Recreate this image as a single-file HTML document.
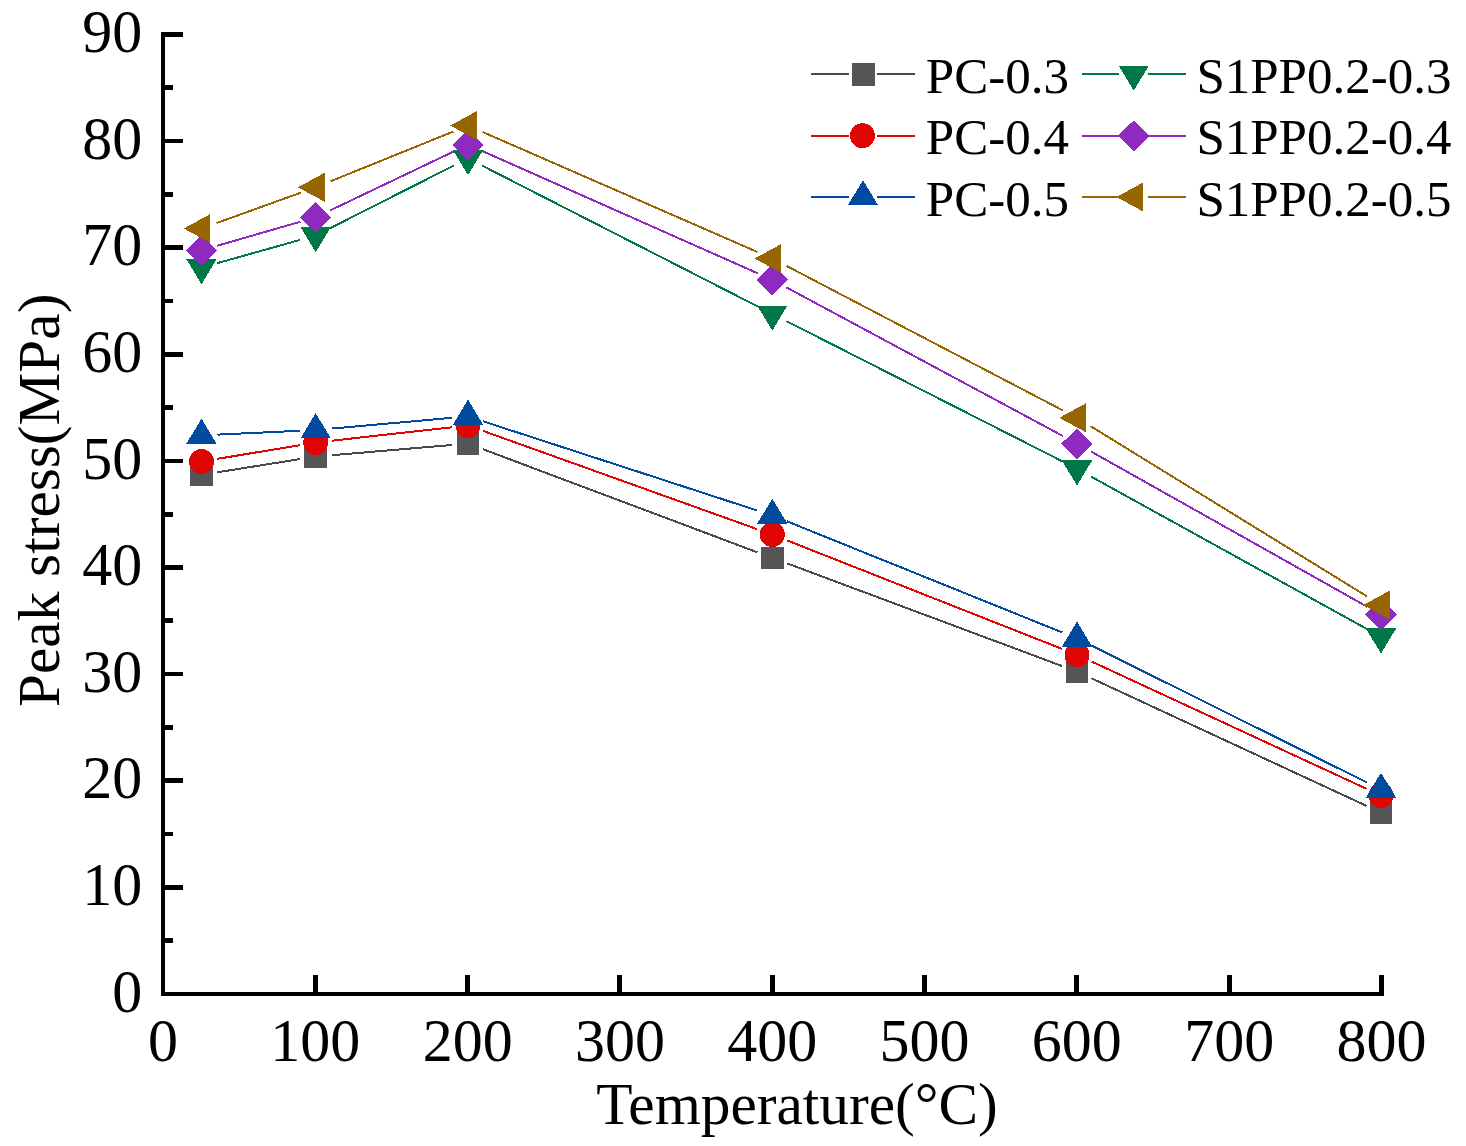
<!DOCTYPE html>
<html><head><meta charset="utf-8"><style>
html,body{margin:0;padding:0;background:#fff;}
svg{display:block;}
text{font-family:"Liberation Serif",serif;fill:#000;}
</style></head><body>
<svg width="1466" height="1146" viewBox="0 0 1466 1146" shape-rendering="crispEdges">
<rect width="1466" height="1146" fill="#fff"/>
<path d="M217.30 472.28L299.90 459.12M331.64 455.24L452.06 444.96M482.98 449.23L757.32 552.27M787.29 563.49L1062.01 666.01M1091.51 678.33L1366.49 805.87" stroke="#4a4a4a" stroke-width="2.0" fill="none"/>
<path d="M217.28 458.87L299.92 445.13M331.60 440.73L452.10 427.27M483.06 430.90L757.24 529.20M787.18 540.47L1062.12 648.93M1091.52 661.52L1366.48 788.78" stroke="#E00505" stroke-width="2.0" fill="none"/>
<path d="M217.48 434.64L299.72 430.76M331.64 428.58L452.06 417.82M483.22 421.35L757.08 510.45M787.14 521.39L1062.16 632.41M1091.33 645.52L1366.67 782.38" stroke="#004B9E" stroke-width="2.0" fill="none"/>
<path d="M216.90 263.27L300.30 239.83M329.98 228.27L453.72 165.63M482.25 165.68L758.05 306.62M786.56 321.15L1062.74 461.55M1091.00 476.54L1367.00 629.06" stroke="#007746" stroke-width="2.0" fill="none"/>
<path d="M216.87 245.86L300.33 221.74M330.14 210.42L453.56 151.58M482.62 151.19L757.68 273.31M786.39 287.38L1062.91 436.02M1090.95 451.44L1367.05 606.66" stroke="#8E2ABF" stroke-width="2.0" fill="none"/>
<path d="M216.55 223.07L300.65 192.73M330.53 181.29L453.17 131.61M482.66 132.00L757.64 252.10M786.48 265.91L1062.82 410.39M1090.62 426.19L1367.38 596.61" stroke="#966600" stroke-width="2.0" fill="none"/>
<rect x="190.25" y="463.55" width="22.50" height="22.50" fill="#555555"/>
<rect x="304.45" y="445.35" width="22.50" height="22.50" fill="#555555"/>
<rect x="456.75" y="432.35" width="22.50" height="22.50" fill="#555555"/>
<rect x="761.05" y="546.65" width="22.50" height="22.50" fill="#555555"/>
<rect x="1065.75" y="660.35" width="22.50" height="22.50" fill="#555555"/>
<rect x="1369.75" y="801.35" width="22.50" height="22.50" fill="#555555"/>
<circle cx="201.50" cy="461.50" r="12.5" fill="#E00505"/>
<circle cx="315.70" cy="442.50" r="12.5" fill="#E00505"/>
<circle cx="468.00" cy="425.50" r="12.5" fill="#E00505"/>
<circle cx="772.30" cy="534.60" r="12.5" fill="#E00505"/>
<circle cx="1077.00" cy="654.80" r="12.5" fill="#E00505"/>
<circle cx="1381.00" cy="795.50" r="12.5" fill="#E00505"/>
<polygon points="201.50,418.60 216.70,443.80 186.30,443.80" fill="#004B9E"/>
<polygon points="315.70,413.20 330.90,438.40 300.50,438.40" fill="#004B9E"/>
<polygon points="468.00,399.60 483.20,424.80 452.80,424.80" fill="#004B9E"/>
<polygon points="772.30,498.60 787.50,523.80 757.10,523.80" fill="#004B9E"/>
<polygon points="1077.00,621.60 1092.20,646.80 1061.80,646.80" fill="#004B9E"/>
<polygon points="1381.00,772.70 1396.20,797.90 1365.80,797.90" fill="#004B9E"/>
<polygon points="201.50,284.40 216.70,259.20 186.30,259.20" fill="#007746"/>
<polygon points="315.70,252.30 330.90,227.10 300.50,227.10" fill="#007746"/>
<polygon points="468.00,175.20 483.20,150.00 452.80,150.00" fill="#007746"/>
<polygon points="772.30,330.70 787.50,305.50 757.10,305.50" fill="#007746"/>
<polygon points="1077.00,485.60 1092.20,460.40 1061.80,460.40" fill="#007746"/>
<polygon points="1381.00,653.60 1396.20,628.40 1365.80,628.40" fill="#007746"/>
<polygon points="201.50,234.80 217.10,250.30 201.50,265.80 185.90,250.30" fill="#8E2ABF"/>
<polygon points="315.70,201.80 331.30,217.30 315.70,232.80 300.10,217.30" fill="#8E2ABF"/>
<polygon points="468.00,129.20 483.60,144.70 468.00,160.20 452.40,144.70" fill="#8E2ABF"/>
<polygon points="772.30,264.30 787.90,279.80 772.30,295.30 756.70,279.80" fill="#8E2ABF"/>
<polygon points="1077.00,428.10 1092.60,443.60 1077.00,459.10 1061.40,443.60" fill="#8E2ABF"/>
<polygon points="1381.00,599.00 1396.60,614.50 1381.00,630.00 1365.40,614.50" fill="#8E2ABF"/>
<polygon points="183.77,228.50 210.37,214.00 210.37,243.00" fill="#966600"/>
<polygon points="297.97,187.30 324.57,172.80 324.57,201.80" fill="#966600"/>
<polygon points="450.27,125.60 476.87,111.10 476.87,140.10" fill="#966600"/>
<polygon points="754.57,258.50 781.17,244.00 781.17,273.00" fill="#966600"/>
<polygon points="1059.27,417.80 1085.87,403.30 1085.87,432.30" fill="#966600"/>
<polygon points="1363.27,605.00 1389.87,590.50 1389.87,619.50" fill="#966600"/>
<path d="M163.0 32.3V994" stroke="#000" stroke-width="3.9" fill="none"/>
<path d="M161.1 994H1384" stroke="#000" stroke-width="3.8" fill="none"/>
<path d="M163.0 887.38H182.9" stroke="#000" stroke-width="4.7" fill="none"/>
<path d="M163.0 780.76H182.9" stroke="#000" stroke-width="4.7" fill="none"/>
<path d="M163.0 674.14H182.9" stroke="#000" stroke-width="4.7" fill="none"/>
<path d="M163.0 567.52H182.9" stroke="#000" stroke-width="4.7" fill="none"/>
<path d="M163.0 460.90H182.9" stroke="#000" stroke-width="4.7" fill="none"/>
<path d="M163.0 354.28H182.9" stroke="#000" stroke-width="4.7" fill="none"/>
<path d="M163.0 247.66H182.9" stroke="#000" stroke-width="4.7" fill="none"/>
<path d="M163.0 141.04H182.9" stroke="#000" stroke-width="4.7" fill="none"/>
<path d="M163.0 34.42H182.9" stroke="#000" stroke-width="4.7" fill="none"/>
<path d="M163.0 940.69H172.9" stroke="#000" stroke-width="4.7" fill="none"/>
<path d="M163.0 834.07H172.9" stroke="#000" stroke-width="4.7" fill="none"/>
<path d="M163.0 727.45H172.9" stroke="#000" stroke-width="4.7" fill="none"/>
<path d="M163.0 620.83H172.9" stroke="#000" stroke-width="4.7" fill="none"/>
<path d="M163.0 514.21H172.9" stroke="#000" stroke-width="4.7" fill="none"/>
<path d="M163.0 407.59H172.9" stroke="#000" stroke-width="4.7" fill="none"/>
<path d="M163.0 300.97H172.9" stroke="#000" stroke-width="4.7" fill="none"/>
<path d="M163.0 194.35H172.9" stroke="#000" stroke-width="4.7" fill="none"/>
<path d="M163.0 87.73H172.9" stroke="#000" stroke-width="4.7" fill="none"/>
<path d="M315.31 994V975.1" stroke="#000" stroke-width="5" fill="none"/>
<path d="M467.62 994V975.1" stroke="#000" stroke-width="5" fill="none"/>
<path d="M619.93 994V975.1" stroke="#000" stroke-width="5" fill="none"/>
<path d="M772.24 994V975.1" stroke="#000" stroke-width="5" fill="none"/>
<path d="M924.55 994V975.1" stroke="#000" stroke-width="5" fill="none"/>
<path d="M1076.86 994V975.1" stroke="#000" stroke-width="5" fill="none"/>
<path d="M1229.17 994V975.1" stroke="#000" stroke-width="5" fill="none"/>
<path d="M1381.48 994V975.1" stroke="#000" stroke-width="5" fill="none"/>
<text transform="translate(142.2,1011.60) scale(1,1.02)" font-size="60" text-anchor="end">0</text>
<text transform="translate(142.2,904.98) scale(1,1.02)" font-size="60" text-anchor="end">10</text>
<text transform="translate(142.2,798.36) scale(1,1.02)" font-size="60" text-anchor="end">20</text>
<text transform="translate(142.2,691.74) scale(1,1.02)" font-size="60" text-anchor="end">30</text>
<text transform="translate(142.2,585.12) scale(1,1.02)" font-size="60" text-anchor="end">40</text>
<text transform="translate(142.2,478.50) scale(1,1.02)" font-size="60" text-anchor="end">50</text>
<text transform="translate(142.2,371.88) scale(1,1.02)" font-size="60" text-anchor="end">60</text>
<text transform="translate(142.2,265.26) scale(1,1.02)" font-size="60" text-anchor="end">70</text>
<text transform="translate(142.2,158.64) scale(1,1.02)" font-size="60" text-anchor="end">80</text>
<text transform="translate(142.2,52.02) scale(1,1.02)" font-size="60" text-anchor="end">90</text>
<text transform="translate(163.00,1061.4) scale(1,1.02)" font-size="60" text-anchor="middle">0</text>
<text transform="translate(315.31,1061.4) scale(1,1.02)" font-size="60" text-anchor="middle">100</text>
<text transform="translate(467.62,1061.4) scale(1,1.02)" font-size="60" text-anchor="middle">200</text>
<text transform="translate(619.93,1061.4) scale(1,1.02)" font-size="60" text-anchor="middle">300</text>
<text transform="translate(772.24,1061.4) scale(1,1.02)" font-size="60" text-anchor="middle">400</text>
<text transform="translate(924.55,1061.4) scale(1,1.02)" font-size="60" text-anchor="middle">500</text>
<text transform="translate(1076.86,1061.4) scale(1,1.02)" font-size="60" text-anchor="middle">600</text>
<text transform="translate(1229.17,1061.4) scale(1,1.02)" font-size="60" text-anchor="middle">700</text>
<text transform="translate(1381.48,1061.4) scale(1,1.02)" font-size="60" text-anchor="middle">800</text>
<text x="797" y="1123.6" font-size="59.3" text-anchor="middle">Temperature(°C)</text>
<text transform="translate(58.6,500.3) rotate(-90)" x="0" y="0" font-size="59.3" text-anchor="middle">Peak stress(MPa)</text>
<path d="M811.3 73.9H914.6" stroke="#4a4a4a" stroke-width="1.8" fill="none"/>
<rect x="848.70" y="70.9" width="28.60" height="6" fill="#fff"/>
<rect x="852.25" y="63.15" width="22.50" height="22.50" fill="#555555"/>
<text x="925.8" y="93.20" font-size="51">PC-0.3</text>
<path d="M811.3 135.7H914.6" stroke="#E00505" stroke-width="1.8" fill="none"/>
<rect x="848.70" y="132.7" width="28.60" height="6" fill="#fff"/>
<circle cx="862.40" cy="135.70" r="12.5" fill="#E00505"/>
<text x="925.8" y="154.00" font-size="51">PC-0.4</text>
<path d="M811.3 197.0H914.6" stroke="#004B9E" stroke-width="1.8" fill="none"/>
<rect x="848.70" y="194.0" width="28.60" height="6" fill="#fff"/>
<polygon points="862.95,180.20 878.15,205.40 847.75,205.40" fill="#004B9E"/>
<text x="925.8" y="215.60" font-size="51">PC-0.5</text>
<path d="M1082.2 73.9H1186.2" stroke="#007746" stroke-width="1.8" fill="none"/>
<rect x="1118.50" y="70.9" width="29.80" height="6" fill="#fff"/>
<polygon points="1133.75,90.70 1148.95,65.50 1118.55,65.50" fill="#007746"/>
<text x="1196.4" y="93.20" font-size="51">S1PP0.2-0.3</text>
<path d="M1082.2 135.7H1186.2" stroke="#8E2ABF" stroke-width="1.8" fill="none"/>
<rect x="1118.50" y="132.7" width="29.80" height="6" fill="#fff"/>
<polygon points="1133.85,120.20 1149.45,135.70 1133.85,151.20 1118.25,135.70" fill="#8E2ABF"/>
<text x="1196.4" y="154.00" font-size="51">S1PP0.2-0.4</text>
<path d="M1082.2 197.0H1186.2" stroke="#966600" stroke-width="1.8" fill="none"/>
<rect x="1118.50" y="194.0" width="29.80" height="6" fill="#fff"/>
<polygon points="1116.47,197.00 1143.07,182.50 1143.07,211.50" fill="#966600"/>
<text x="1196.4" y="215.60" font-size="51">S1PP0.2-0.5</text>
</svg></body></html>
